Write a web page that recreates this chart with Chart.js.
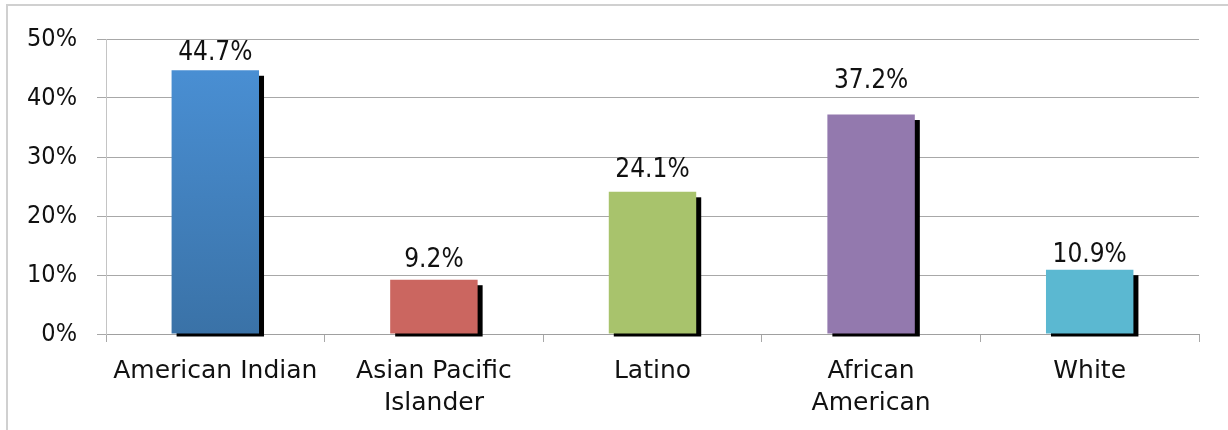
<!DOCTYPE html>
<html>
<head>
<meta charset="utf-8">
<script src="https://cdn.jsdelivr.net/npm/chart.js@4/dist/chart.umd.min.js"></script>
<style>
  html, body { margin: 0; padding: 0; background: #fff; }
  #wrap { position: relative; width: 1228px; height: 430px; overflow: hidden; }
  #frame { position: absolute; left: 6px; top: 4px; width: 1240px; height: 460px;
           border: 2px solid #d0d0d0; box-sizing: border-box; pointer-events: none; }
  canvas { position: absolute; left: 0; top: 0; }
</style>
</head>
<body>
<div id="wrap">
  <canvas id="c" width="1228" height="430"></canvas>
  <div id="frame"></div>
</div>
<script>
// ---- data ----
const categories = [['American Indian'], ['Asian Pacific', 'Islander'], ['Latino'], ['African', 'American'], ['White']];
const values = [44.7, 9.2, 24.1, 37.2, 10.9];
const valueLabels = ['44.7%', '9.2%', '24.1%', '37.2%', '10.9%'];
const yMax = 50;
const yStep = 10;

// ---- styling ----
const barColors = [null, '#cb6660', '#a8c36c', '#9379ae', '#5bb8d1'];
const labelLift = [10, 13, 15, 27, 8]; // px between bar top and label baseline
const numFont = "'DejaVu Sans Condensed', 'DejaVu Sans', sans-serif";
const catFont = "'DejaVu Sans', sans-serif";

function barColor(ctx) {
  const i = ctx.dataIndex;
  if (i === 0) {
    const area = ctx.chart.chartArea;
    if (!area) return '#4288c8';
    const g = ctx.chart.ctx.createLinearGradient(0, area.top, 0, area.bottom);
    g.addColorStop(0, '#4b92d8');
    g.addColorStop(1, '#3a72a7');
    return g;
  }
  return barColors[i];
}

const shadowPlugin = {
  id: 'shadow',
  beforeDatasetsDraw(chart) {
    const c = chart.ctx;
    const meta = chart.getDatasetMeta(0);
    c.save();
    c.fillStyle = '#000';
    meta.data.forEach(bar => {
      const p = bar.getProps(['x', 'y', 'base', 'width'], true);
      const left = p.x - p.width / 2 + 5;
      const top = p.y + 5.5;
      c.fillRect(left, top, p.width, p.base + 3 - top);
    });
    c.restore();
  },
  afterDatasetsDraw(chart) {
    const c = chart.ctx;
    const meta = chart.getDatasetMeta(0);
    c.save();
    c.fillStyle = '#111';
    c.font = "26px " + numFont;
    c.textAlign = 'center';
    c.textBaseline = 'alphabetic';
    meta.data.forEach((bar, i) => {
      const p = bar.getProps(['x', 'y'], true);
      c.fillText(valueLabels[i], p.x, p.y - labelLift[i]);
    });
    c.restore();
  }
};

new Chart(document.getElementById('c'), {
  type: 'bar',
  data: {
    labels: categories,
    datasets: [{
      data: values,
      backgroundColor: barColor,
      borderWidth: 0,
      barPercentage: 0.4,
      categoryPercentage: 1.0
    }]
  },
  options: {
    responsive: false,
    animation: false,
    devicePixelRatio: 1,
    layout: { padding: { left: 0, right: 29, top: 39, bottom: 0 } },
    plugins: { legend: { display: false }, tooltip: { enabled: false } },
    scales: {
      x: {
        grid: { display: true, drawOnChartArea: false, drawTicks: true, tickLength: 8, color: '#a8a8a8', offset: true },
        border: { display: true, color: '#a0a0a0', width: 1 },
        ticks: { color: '#111', padding: 14, maxRotation: 0, autoSkip: false,
                 font: { family: catFont, size: 25, lineHeight: 1.26 } },
        afterFit(scale) { scale.height = 96; }
      },
      y: {
        min: 0, max: yMax,
        grid: { color: '#a8a8a8', tickLength: 9, drawTicks: true },
        border: { display: true, color: '#c4c4c4', width: 1 },
        ticks: { stepSize: yStep, color: '#111', padding: 20,
                 font: { family: numFont, size: 25 },
                 callback: v => v + '%' },
        afterFit(scale) { scale.width = 106; }
      }
    }
  },
  plugins: [shadowPlugin]
});
</script>
</body>
</html>
